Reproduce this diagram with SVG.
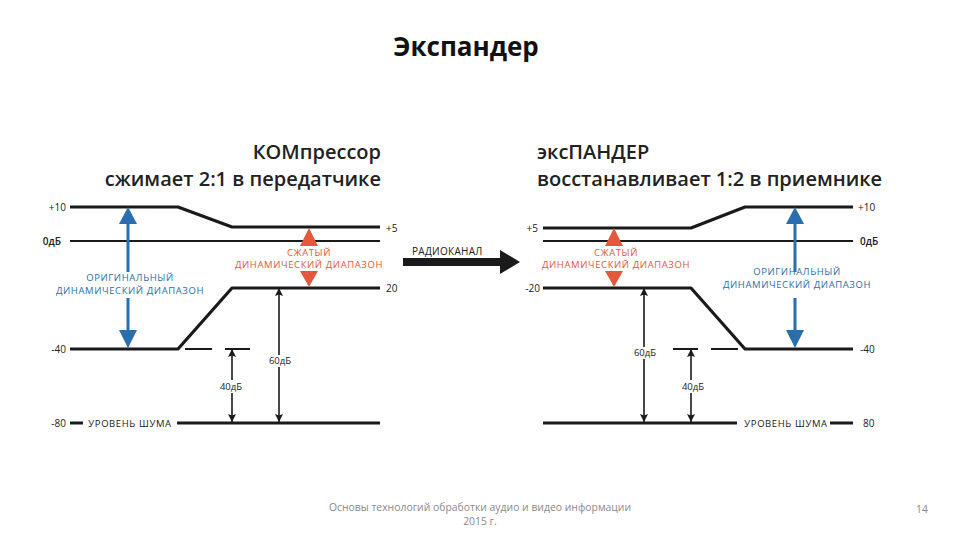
<svg xmlns="http://www.w3.org/2000/svg" width="960" height="540" viewBox="0 0 960 540">
<style>
.bg{fill:#fff}
.ln{stroke:#1a1a1a;stroke-width:3.2;fill:none;stroke-linejoin:round}
.ln2{stroke:#1a1a1a;stroke-width:2;fill:none}
.dim{stroke:#1a1a1a;stroke-width:1.6;fill:none}
.ax{font-family:"Open Sans","DejaVu Sans",sans-serif;font-size:10px;fill:#222}
.axb{font-family:"Open Sans","DejaVu Sans",sans-serif;font-size:10px;fill:#222;font-weight:600}
.cap{font-family:"Open Sans","DejaVu Sans",sans-serif;font-size:9.5px;letter-spacing:0.6px;text-anchor:middle}
.blue{fill:#2a6fad}
.red{fill:#e4583c}
.hd{font-family:"Open Sans","DejaVu Sans",sans-serif;font-size:20px;font-weight:600;fill:#222}
.title{font-family:"Open Sans","DejaVu Sans",sans-serif;font-size:26px;font-weight:700;fill:#111;text-anchor:middle}
.foot{font-family:"Open Sans","DejaVu Sans",sans-serif;font-size:10.4px;fill:#8a8a8a;text-anchor:middle}
.dl{font-family:"Open Sans","DejaVu Sans",sans-serif;font-size:9.5px;fill:#222;text-anchor:middle}
</style>
<defs>
<marker id="ah" viewBox="0 0 10 10" refX="10" refY="5" markerWidth="10" markerHeight="8" orient="auto-start-reverse" markerUnits="userSpaceOnUse">
<path d="M0,0 L10,5 L0,10 L2,5 Z" fill="#1a1a1a"/>
</marker>
</defs>
<rect class="bg" x="0" y="0" width="960" height="540"/>

<g id="title"><text class="title" x="466" y="56">Экспандер</text></g>

<g id="compressor-heading">
<text class="hd" x="381" y="159" text-anchor="end">КОМпрессор</text>
<text class="hd" x="381" y="186" text-anchor="end">сжимает 2:1 в передатчике</text>
</g>
<g id="expander-heading">
<text class="hd" x="537" y="159">эксПАНДЕР</text>
<text class="hd" x="537" y="186">восстанавливает 1:2 в приемнике</text>
</g>

<g id="compressor-levels">
<path class="ln" d="M70,207 H178 L232,227 H380"/>
<path class="ln2" d="M70,241 H380"/>
<path class="ln" d="M70,349 H178 L232,288 H380"/>
<path class="ln2" d="M185,349 H212 M225,349 H250"/>
<path class="ln" d="M70,423 H83 M177,423 H380"/>
<text class="ax" x="66" y="211" text-anchor="end">+10</text>
<text class="axb" x="61" y="245" text-anchor="end">0дБ</text>
<text class="ax" x="66" y="353" text-anchor="end">-40</text>
<text class="ax" x="66" y="427" text-anchor="end">-80</text>
<text class="ax" x="386" y="232">+5</text>
<text class="ax" x="386" y="292">20</text>
<text class="cap" x="130" y="427" fill="#222" letter-spacing="0.3">УРОВЕНЬ ШУМА</text>
</g>

<g id="compressor-original-range">
<path d="M128,224 V272 M128,298 V330" stroke="#2a6fad" stroke-width="3"/>
<path class="blue" d="M128,207 L137,224 L119,224 Z"/>
<path class="blue" d="M128,348 L137,330 L119,330 Z"/>
<text class="cap blue" x="130" y="281">ОРИГИНАЛЬНЫЙ</text>
<text class="cap blue" x="130" y="294">ДИНАМИЧЕСКИЙ ДИАПАЗОН</text>
</g>

<g id="compressor-compressed-range">
<path class="red" d="M309,228 L318,246 L300,246 Z"/>
<path class="red" d="M309,287 L318,271 L300,271 Z"/>
<text class="cap red" x="309" y="256">СЖАТЫЙ</text>
<text class="cap red" x="309" y="268">ДИНАМИЧЕСКИЙ ДИАПАЗОН</text>
</g>

<g id="expander-levels">
<path class="ln" d="M543,228 H691 L745,207 H853"/>
<path class="ln2" d="M543,241 H853"/>
<path class="ln" d="M543,288 H691 L745,349 H853"/>
<path class="ln2" d="M711,349 H738 M673,349 H698"/>
<path class="ln" d="M543,423 H737 M830,423 H853"/>
<text class="ax" x="538" y="232" text-anchor="end">+5</text>
<text class="ax" x="540" y="292" text-anchor="end">-20</text>
<text class="ax" x="858" y="211">+10</text>
<text class="axb" x="860" y="245">0дБ</text>
<text class="ax" x="860" y="353">-40</text>
<text class="ax" x="863" y="427">80</text>
<text class="cap" x="786" y="427" fill="#222" letter-spacing="0.3">УРОВЕНЬ ШУМА</text>
</g>

<g id="expander-original-range">
<path d="M795,224 V272 M795,298 V330" stroke="#2a6fad" stroke-width="3"/>
<path class="blue" d="M795,207 L804,224 L786,224 Z"/>
<path class="blue" d="M795,348 L804,330 L786,330 Z"/>
<text class="cap blue" x="797" y="275">ОРИГИНАЛЬНЫЙ</text>
<text class="cap blue" x="797" y="288">ДИНАМИЧЕСКИЙ ДИАПАЗОН</text>
</g>

<g id="expander-compressed-range">
<path class="red" d="M614,228 L623,246 L605,246 Z"/>
<path class="red" d="M614,287 L623,271 L605,271 Z"/>
<text class="cap red" x="616" y="256">СЖАТЫЙ</text>
<text class="cap red" x="616" y="268">ДИНАМИЧЕСКИЙ ДИАПАЗОН</text>
</g>

<g id="connectors">
<path class="dim" d="M279,355 V288" marker-end="url(#ah)"/>
<path class="dim" d="M279,367 V422" marker-end="url(#ah)"/>
<path class="dim" d="M232,380 V349" marker-end="url(#ah)"/>
<path class="dim" d="M232,393 V422" marker-end="url(#ah)"/>
<path class="dim" d="M644,347 V288" marker-end="url(#ah)"/>
<path class="dim" d="M644,359 V422" marker-end="url(#ah)"/>
<path class="dim" d="M691,380 V349" marker-end="url(#ah)"/>
<path class="dim" d="M691,393 V422" marker-end="url(#ah)"/>
<path d="M403,262 H502" stroke="#1a1a1a" stroke-width="8"/>
<path d="M520,262 L500,250 L500,274 Z" fill="#1a1a1a"/>
</g>

<g id="dim-labels">
<text class="dl" x="280" y="364">60дБ</text>
<text class="dl" x="231" y="390">40дБ</text>
<text class="dl" x="645" y="356">60дБ</text>
<text class="dl" x="693" y="390">40дБ</text>
<text class="ax" x="412" y="255" letter-spacing="0.3">РАДИОКАНАЛ</text>
</g>

<g id="footer">
<text class="foot" x="480" y="511">Основы технологий обработки аудио и видео информации</text>
<text class="foot" x="480" y="525">2015 г.</text>
<text class="foot" x="922" y="513">14</text>
</g>
</svg>
